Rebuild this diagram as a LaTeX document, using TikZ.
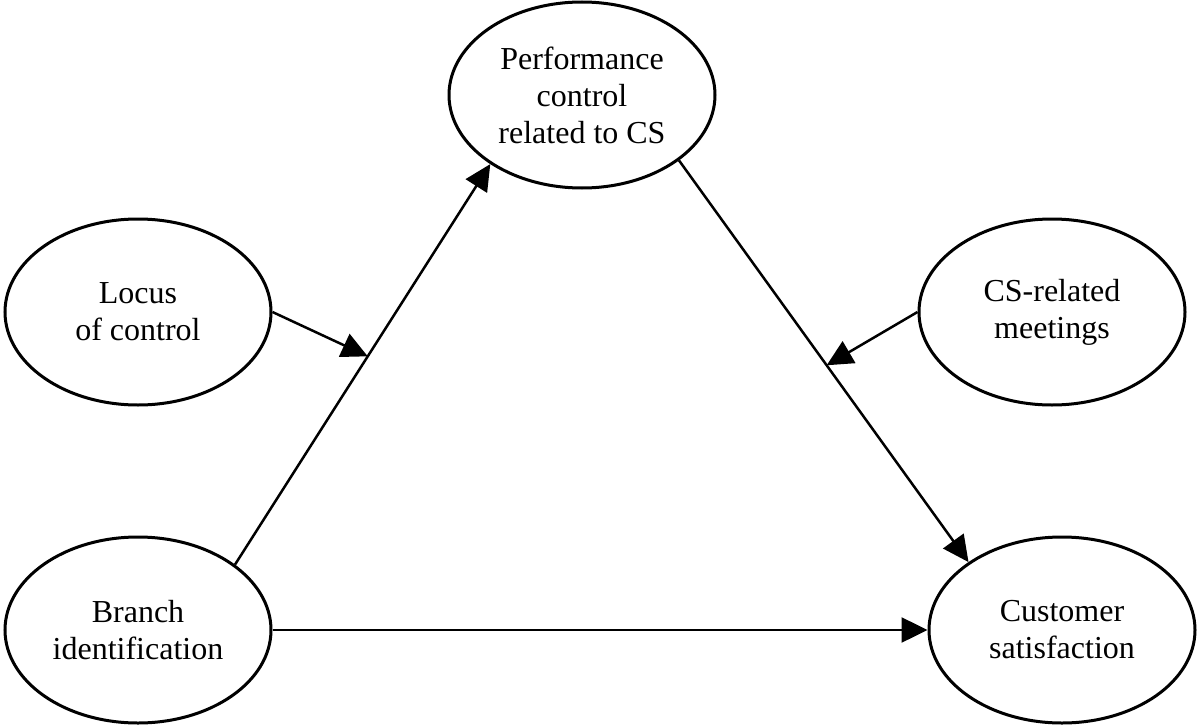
\documentclass[tikz,border=0pt]{standalone}
\usepackage{fontspec}
\setmainfont{Liberation Serif}
\usetikzlibrary{arrows.meta,shapes.geometric}
\begin{document}
\begin{tikzpicture}[x=1pt,y=-1pt,
  var/.style={ellipse,draw,line width=3pt,minimum width=266pt,minimum height=186pt,inner sep=0pt,align=center,font=\fontsize{32}{37}\selectfont},
  conn/.style={line width=2.5pt,-{Triangle[length=26pt,width=25pt]}}]
\useasboundingbox (0,0) rectangle (1197,725);
\node[var] (perf) at (582,95) {Performance\\control\\related to CS};
\node[var] (locus) at (138,312) {Locus\\of control};
\node[var] (csm) at (1052,312) {CS-related\\meetings};
\node[var] (branch) at (138,630) {Branch\\identification};
\node[var] (cust) at (1062,630) {Customer\\satisfaction};
\draw[conn] (branch.34.7) -- coordinate[pos=0.52] (m1) (perf.217.3);
\draw[conn] (perf.-34.4) -- coordinate[pos=0.51] (m2) (cust.144.5);
\draw[conn] (branch.east) -- (cust.west);
\draw[conn] (locus.east) -- (m1);
\draw[conn] (csm.west) -- (m2);
\end{tikzpicture}
\end{document}
